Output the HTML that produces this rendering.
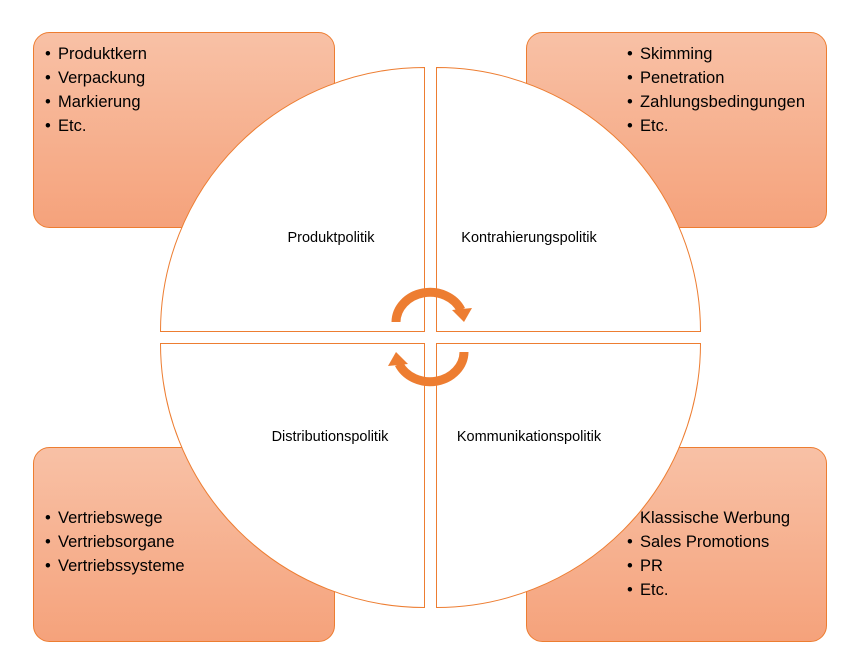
<!DOCTYPE html>
<html><head><meta charset="utf-8"><style>
body{margin:0;background:#fff}
svg text{font-family:"Liberation Sans",sans-serif;fill:#000}
</style></head><body>
<svg width="854" height="659" viewBox="0 0 854 659" xmlns="http://www.w3.org/2000/svg">
<defs>
<linearGradient id="g" x1="0" y1="0" x2="0" y2="1">
<stop offset="0" stop-color="#f8c1a6"/><stop offset="1" stop-color="#f5a27b"/>
</linearGradient>
</defs>
<g fill="url(#g)" stroke="#ed7d31" stroke-width="1">
<rect x="33.5" y="32.5" width="301" height="195" rx="16"/>
<rect x="526.5" y="32.5" width="300" height="195" rx="16"/>
<rect x="33.5" y="447.5" width="301" height="194" rx="16"/>
<rect x="526.5" y="447.5" width="300" height="194" rx="16"/>
</g>
<g fill="#fff" stroke="#ed7d31" stroke-width="1">
<path d="M424.5 331.5 L160.5 331.5 A264 264 0 0 1 424.5 67.5 Z"/>
<path d="M436.5 331.5 L436.5 67.5 A264 264 0 0 1 700.5 331.5 Z"/>
<path d="M424.5 343.5 L424.5 607.5 A264 264 0 0 1 160.5 343.5 Z"/>
<path d="M436.5 343.5 L700.5 343.5 A264 264 0 0 1 436.5 607.5 Z"/>
</g>
<g fill="none" stroke="#ed7d31" stroke-width="9">
<path d="M396 322 A34 30 0 0 1 461 310"/>
<path d="M464 352 A34 30 0 0 1 399 364"/>
</g>
<g fill="#ed7d31">
<polygon points="452,310 472,308 464,322"/>
<polygon points="408,364 388,366 396,352"/>
</g>
<g font-size="14.5" text-anchor="middle">
<text x="331" y="242">Produktpolitik</text>
<text x="529" y="242">Kontrahierungspolitik</text>
<text x="330" y="441">Distributionspolitik</text>
<text x="529" y="441">Kommunikationspolitik</text>
</g>
<g font-size="16.5">
<text x="45" y="59">•</text><text x="58" y="59">Produktkern</text>
<text x="45" y="83">•</text><text x="58" y="83">Verpackung</text>
<text x="45" y="107">•</text><text x="58" y="107">Markierung</text>
<text x="45" y="131">•</text><text x="58" y="131">Etc.</text>
<text x="627" y="59">•</text><text x="640" y="59">Skimming</text>
<text x="627" y="83">•</text><text x="640" y="83">Penetration</text>
<text x="627" y="107">•</text><text x="640" y="107" textLength="165">Zahlungsbedingungen</text>
<text x="627" y="131">•</text><text x="640" y="131">Etc.</text>
<text x="45" y="523">•</text><text x="58" y="523">Vertriebswege</text>
<text x="45" y="547">•</text><text x="58" y="547">Vertriebsorgane</text>
<text x="45" y="571">•</text><text x="58" y="571">Vertriebssysteme</text>
<text x="640" y="523">Klassische Werbung</text>
<text x="627" y="547">•</text><text x="640" y="547">Sales Promotions</text>
<text x="627" y="571">•</text><text x="640" y="571">PR</text>
<text x="627" y="595">•</text><text x="640" y="595">Etc.</text>
</g>
</svg>
</body></html>
